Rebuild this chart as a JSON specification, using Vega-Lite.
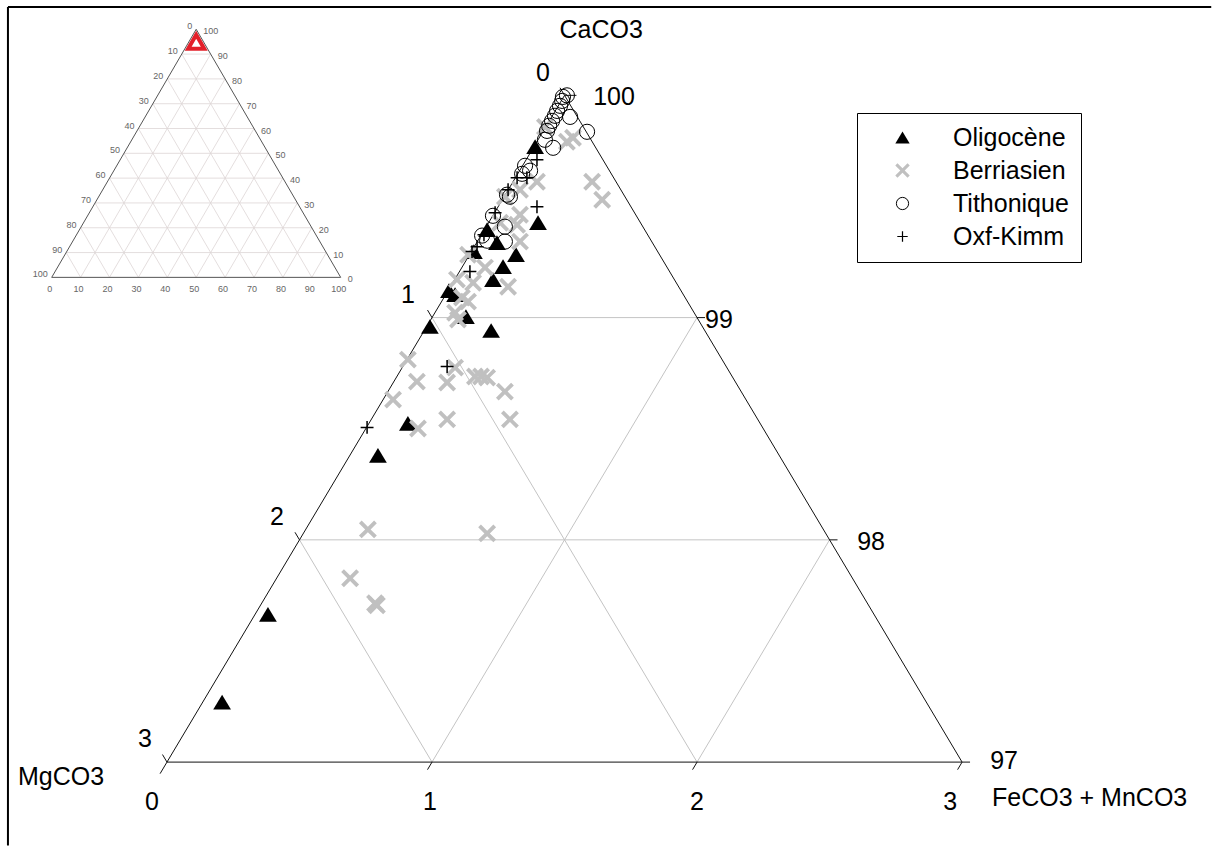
{
  "$schema": "https://vega.github.io/schema/vega-lite/v6.json",
  "width": 1216,
  "height": 847,
  "autosize": {"type": "fit", "contains": "padding"},
  "padding": 0,
  "background": "white",
  "config": {
    "view": {"stroke": null},
    "legend": {
      "orient": "none", "legendX": 857, "legendY": 113,
      "strokeColor": "black", "fillColor": "white", "padding": 12,
      "symbolOffset": 21, "labelOffset": 38, "labelFont": "Liberation Sans",
      "labelFontSize": 25, "labelColor": "black", "rowPadding": 7,
      "symbolSize": 150, "symbolStrokeWidth": 1
    }
  },
  "datasets": {
    "grid": [
      {"x": 1, "y": 99, "x2": 2, "y2": 99},
      {"x": 0.5, "y": 98, "x2": 2.5, "y2": 98},
      {"x": 1, "y": 97, "x2": 2, "y2": 99},
      {"x": 2, "y": 97, "x2": 2.5, "y2": 98},
      {"x": 1, "y": 97, "x2": 0.5, "y2": 98},
      {"x": 2, "y": 97, "x2": 1, "y2": 99}
    ],
    "edges": [
      {"x": 0, "y": 97, "x2": 1.5, "y2": 100},
      {"x": 1.5, "y": 100, "x2": 3, "y2": 97},
      {"x": 0, "y": 97, "x2": 3, "y2": 97}
    ],
    "ticks": [
      {"x": 1.5, "y": 100, "x2": 1.483, "y2": 100.034},
      {"x": 1, "y": 99, "x2": 0.983, "y2": 99.034},
      {"x": 0.5, "y": 98, "x2": 0.483, "y2": 98.034},
      {"x": 0, "y": 97, "x2": -0.017, "y2": 97.034},
      {"x": 1.5, "y": 100, "x2": 1.545, "y2": 100},
      {"x": 2, "y": 99, "x2": 2.03, "y2": 99},
      {"x": 2.5, "y": 98, "x2": 2.53, "y2": 98},
      {"x": 3, "y": 97, "x2": 3.03, "y2": 97},
      {"x": 0, "y": 97, "x2": -0.026, "y2": 96.948},
      {"x": 1, "y": 97, "x2": 0.983, "y2": 96.966},
      {"x": 2, "y": 97, "x2": 1.983, "y2": 96.966},
      {"x": 3, "y": 97, "x2": 2.983, "y2": 96.966}
    ],
    "frame": [
      {"x": -0.6, "y": 96.625, "x2": -0.6, "y2": 100.398},
      {"x": -0.6, "y": 100.398, "x2": 3.94, "y2": 100.398}
    ],
    "labelsCenter": [
      {"x": 1.638, "y": 100.294, "label": "CaCO3"},
      {"x": 1.419, "y": 100.101, "label": "0"},
      {"x": 0.909, "y": 99.103, "label": "1"},
      {"x": 0.415, "y": 98.101, "label": "2"},
      {"x": -0.083, "y": 97.103, "label": "3"},
      {"x": -0.057, "y": 96.82, "label": "0"},
      {"x": 0.992, "y": 96.82, "label": "1"},
      {"x": 2.0, "y": 96.82, "label": "2"},
      {"x": 2.955, "y": 96.82, "label": "3"},
      {"x": -0.4, "y": 96.933, "label": "MgCO3"}
    ],
    "labelsLeft": [
      {"x": 1.608, "y": 99.993, "label": "100"},
      {"x": 2.03, "y": 98.987, "label": "99"},
      {"x": 2.604, "y": 97.989, "label": "98"},
      {"x": 3.106, "y": 97.004, "label": "97"},
      {"x": 3.113, "y": 96.838, "label": "FeCO3 + MnCO3"}
    ],
    "pts": [
      {"series": "Oligocène", "x": 1.389, "y": 99.769},
      {"series": "Oligocène", "x": 1.4, "y": 99.427},
      {"series": "Oligocène", "x": 1.208, "y": 99.396},
      {"series": "Oligocène", "x": 1.245, "y": 99.337},
      {"series": "Oligocène", "x": 1.317, "y": 99.283},
      {"series": "Oligocène", "x": 1.158, "y": 99.297},
      {"series": "Oligocène", "x": 1.268, "y": 99.229},
      {"series": "Oligocène", "x": 1.23, "y": 99.171},
      {"series": "Oligocène", "x": 1.064, "y": 99.121},
      {"series": "Oligocène", "x": 1.087, "y": 99.103},
      {"series": "Oligocène", "x": 1.128, "y": 99.004},
      {"series": "Oligocène", "x": 0.992, "y": 98.96},
      {"series": "Oligocène", "x": 1.223, "y": 98.942},
      {"series": "Oligocène", "x": 0.909, "y": 98.524},
      {"series": "Oligocène", "x": 0.796, "y": 98.38},
      {"series": "Oligocène", "x": 0.381, "y": 97.665},
      {"series": "Oligocène", "x": 0.208, "y": 97.27},
      {"series": "Berriasien", "x": 1.532, "y": 99.809},
      {"series": "Berriasien", "x": 1.509, "y": 99.791},
      {"series": "Berriasien", "x": 1.426, "y": 99.858},
      {"series": "Berriasien", "x": 1.604, "y": 99.611},
      {"series": "Berriasien", "x": 1.642, "y": 99.53},
      {"series": "Berriasien", "x": 1.396, "y": 99.611},
      {"series": "Berriasien", "x": 1.332, "y": 99.575},
      {"series": "Berriasien", "x": 1.275, "y": 99.544},
      {"series": "Berriasien", "x": 1.332, "y": 99.463},
      {"series": "Berriasien", "x": 1.321, "y": 99.418},
      {"series": "Berriasien", "x": 1.332, "y": 99.342},
      {"series": "Berriasien", "x": 1.257, "y": 99.427},
      {"series": "Berriasien", "x": 1.2, "y": 99.225},
      {"series": "Berriasien", "x": 1.136, "y": 99.283},
      {"series": "Berriasien", "x": 1.094, "y": 99.171},
      {"series": "Berriasien", "x": 1.155, "y": 99.157},
      {"series": "Berriasien", "x": 1.287, "y": 99.139},
      {"series": "Berriasien", "x": 1.113, "y": 99.09},
      {"series": "Berriasien", "x": 1.136, "y": 99.072},
      {"series": "Berriasien", "x": 1.087, "y": 99.022},
      {"series": "Berriasien", "x": 1.098, "y": 98.991},
      {"series": "Berriasien", "x": 0.909, "y": 98.811},
      {"series": "Berriasien", "x": 0.943, "y": 98.712},
      {"series": "Berriasien", "x": 1.057, "y": 98.708},
      {"series": "Berriasien", "x": 1.087, "y": 98.775},
      {"series": "Berriasien", "x": 1.162, "y": 98.735},
      {"series": "Berriasien", "x": 1.185, "y": 98.735},
      {"series": "Berriasien", "x": 1.208, "y": 98.73},
      {"series": "Berriasien", "x": 1.275, "y": 98.667},
      {"series": "Berriasien", "x": 0.853, "y": 98.631},
      {"series": "Berriasien", "x": 1.057, "y": 98.542},
      {"series": "Berriasien", "x": 0.947, "y": 98.501},
      {"series": "Berriasien", "x": 1.294, "y": 98.542},
      {"series": "Berriasien", "x": 0.758, "y": 98.047},
      {"series": "Berriasien", "x": 1.208, "y": 98.029},
      {"series": "Berriasien", "x": 0.691, "y": 97.827},
      {"series": "Berriasien", "x": 0.792, "y": 97.706},
      {"series": "Berriasien", "x": 0.785, "y": 97.715},
      {"series": "Tithonique", "x": 1.494, "y": 99.993},
      {"series": "Tithonique", "x": 1.509, "y": 100.0},
      {"series": "Tithonique", "x": 1.491, "y": 99.975},
      {"series": "Tithonique", "x": 1.483, "y": 99.953},
      {"series": "Tithonique", "x": 1.472, "y": 99.93},
      {"series": "Tithonique", "x": 1.464, "y": 99.908},
      {"series": "Tithonique", "x": 1.453, "y": 99.885},
      {"series": "Tithonique", "x": 1.442, "y": 99.863},
      {"series": "Tithonique", "x": 1.434, "y": 99.84},
      {"series": "Tithonique", "x": 1.521, "y": 99.903},
      {"series": "Tithonique", "x": 1.585, "y": 99.836},
      {"series": "Tithonique", "x": 1.426, "y": 99.8},
      {"series": "Tithonique", "x": 1.457, "y": 99.764},
      {"series": "Tithonique", "x": 1.351, "y": 99.683},
      {"series": "Tithonique", "x": 1.37, "y": 99.661},
      {"series": "Tithonique", "x": 1.34, "y": 99.647},
      {"series": "Tithonique", "x": 1.283, "y": 99.553},
      {"series": "Tithonique", "x": 1.294, "y": 99.544},
      {"series": "Tithonique", "x": 1.23, "y": 99.458},
      {"series": "Tithonique", "x": 1.275, "y": 99.409},
      {"series": "Tithonique", "x": 1.189, "y": 99.369},
      {"series": "Tithonique", "x": 1.208, "y": 99.346},
      {"series": "Tithonique", "x": 1.275, "y": 99.342},
      {"series": "Oxf-Kimm", "x": 1.396, "y": 99.71},
      {"series": "Oxf-Kimm", "x": 1.358, "y": 99.629},
      {"series": "Oxf-Kimm", "x": 1.321, "y": 99.629},
      {"series": "Oxf-Kimm", "x": 1.287, "y": 99.575},
      {"series": "Oxf-Kimm", "x": 1.396, "y": 99.499},
      {"series": "Oxf-Kimm", "x": 1.238, "y": 99.472},
      {"series": "Oxf-Kimm", "x": 1.196, "y": 99.373},
      {"series": "Oxf-Kimm", "x": 1.17, "y": 99.319},
      {"series": "Oxf-Kimm", "x": 1.151, "y": 99.297},
      {"series": "Oxf-Kimm", "x": 1.143, "y": 99.207},
      {"series": "Oxf-Kimm", "x": 1.057, "y": 98.78},
      {"series": "Oxf-Kimm", "x": 0.755, "y": 98.506}
    ],
    "insetEdges": [
      {"x": 0, "y": 0, "x2": 50, "y2": 100},
      {"x": 50, "y": 100, "x2": 100, "y2": 0},
      {"x": 0, "y": 0, "x2": 100, "y2": 0}
    ],
    "insetGrid": [
      {"x": 10, "y": 0, "x2": 55, "y2": 90},
      {"x": 20, "y": 0, "x2": 60, "y2": 80},
      {"x": 30, "y": 0, "x2": 65, "y2": 70},
      {"x": 40, "y": 0, "x2": 70, "y2": 60},
      {"x": 50, "y": 0, "x2": 75, "y2": 50},
      {"x": 60, "y": 0, "x2": 80, "y2": 40},
      {"x": 70, "y": 0, "x2": 85, "y2": 30},
      {"x": 80, "y": 0, "x2": 90, "y2": 20},
      {"x": 90, "y": 0, "x2": 95, "y2": 10},
      {"x": 10, "y": 0, "x2": 5, "y2": 10},
      {"x": 20, "y": 0, "x2": 10, "y2": 20},
      {"x": 30, "y": 0, "x2": 15, "y2": 30},
      {"x": 40, "y": 0, "x2": 20, "y2": 40},
      {"x": 50, "y": 0, "x2": 25, "y2": 50},
      {"x": 60, "y": 0, "x2": 30, "y2": 60},
      {"x": 70, "y": 0, "x2": 35, "y2": 70},
      {"x": 80, "y": 0, "x2": 40, "y2": 80},
      {"x": 90, "y": 0, "x2": 45, "y2": 90},
      {"x": 5, "y": 10, "x2": 95, "y2": 10},
      {"x": 10, "y": 20, "x2": 90, "y2": 20},
      {"x": 15, "y": 30, "x2": 85, "y2": 30},
      {"x": 20, "y": 40, "x2": 80, "y2": 40},
      {"x": 25, "y": 50, "x2": 75, "y2": 50},
      {"x": 30, "y": 60, "x2": 70, "y2": 60},
      {"x": 35, "y": 70, "x2": 65, "y2": 70},
      {"x": 40, "y": 80, "x2": 60, "y2": 80},
      {"x": 45, "y": 90, "x2": 55, "y2": 90}
    ],
    "insetLabels": [
      {"side": "b", "x": 0, "y": 0, "label": "0"},
      {"side": "b", "x": 10, "y": 0, "label": "10"},
      {"side": "b", "x": 20, "y": 0, "label": "20"},
      {"side": "b", "x": 30, "y": 0, "label": "30"},
      {"side": "b", "x": 40, "y": 0, "label": "40"},
      {"side": "b", "x": 50, "y": 0, "label": "50"},
      {"side": "b", "x": 60, "y": 0, "label": "60"},
      {"side": "b", "x": 70, "y": 0, "label": "70"},
      {"side": "b", "x": 80, "y": 0, "label": "80"},
      {"side": "b", "x": 90, "y": 0, "label": "90"},
      {"side": "b", "x": 100, "y": 0, "label": "100"},
      {"side": "l", "x": 50, "y": 100, "label": "0"},
      {"side": "l", "x": 45, "y": 90, "label": "10"},
      {"side": "l", "x": 40, "y": 80, "label": "20"},
      {"side": "l", "x": 35, "y": 70, "label": "30"},
      {"side": "l", "x": 30, "y": 60, "label": "40"},
      {"side": "l", "x": 25, "y": 50, "label": "50"},
      {"side": "l", "x": 20, "y": 40, "label": "60"},
      {"side": "l", "x": 15, "y": 30, "label": "70"},
      {"side": "l", "x": 10, "y": 20, "label": "80"},
      {"side": "l", "x": 5, "y": 10, "label": "90"},
      {"side": "l", "x": 0, "y": 0, "label": "100"},
      {"side": "r", "x": 100, "y": 0, "label": "0"},
      {"side": "r", "x": 95, "y": 10, "label": "10"},
      {"side": "r", "x": 90, "y": 20, "label": "20"},
      {"side": "r", "x": 85, "y": 30, "label": "30"},
      {"side": "r", "x": 80, "y": 40, "label": "40"},
      {"side": "r", "x": 75, "y": 50, "label": "50"},
      {"side": "r", "x": 70, "y": 60, "label": "60"},
      {"side": "r", "x": 65, "y": 70, "label": "70"},
      {"side": "r", "x": 60, "y": 80, "label": "80"},
      {"side": "r", "x": 55, "y": 90, "label": "90"},
      {"side": "r", "x": 50, "y": 100, "label": "100"}
    ],
    "insetMarker": [
      {"x": 50, "y": 95}
    ]
  },
  "layer": [
    {
      "encoding": {
        "x": {"field": "x", "type": "quantitative", "axis": null, "scale": {"domain": [-0.63, 3.958], "nice": false, "zero": false}},
        "y": {"field": "y", "type": "quantitative", "axis": null, "scale": {"domain": [96.6225, 100.429], "nice": false, "zero": false}}
      },
      "layer": [
        {
          "data": {"name": "grid"},
          "mark": {"type": "rule", "color": "#c4c4c4", "strokeWidth": 1},
          "encoding": {"x2": {"field": "x2"}, "y2": {"field": "y2"}}
        },
        {
          "data": {"name": "edges"},
          "mark": {"type": "rule", "color": "#111111", "strokeWidth": 1},
          "encoding": {"x2": {"field": "x2"}, "y2": {"field": "y2"}}
        },
        {
          "data": {"name": "ticks"},
          "mark": {"type": "rule", "color": "#111111", "strokeWidth": 1},
          "encoding": {"x2": {"field": "x2"}, "y2": {"field": "y2"}}
        },
        {
          "data": {"name": "frame"},
          "mark": {"type": "rule", "color": "#000000", "strokeWidth": 2},
          "encoding": {"x2": {"field": "x2"}, "y2": {"field": "y2"}}
        },
        {
          "data": {"name": "pts"},
          "mark": {"type": "point", "size": 230, "strokeWidth": 1, "opacity": 1},
          "encoding": {
            "shape": {
              "field": "series", "type": "nominal",
              "scale": {
                "domain": ["Oligocène", "Berriasien", "Tithonique", "Oxf-Kimm"],
                "range": [
                  "M0,-0.97L1.17,0.97L-1.17,0.97Z",
                  "M0,0.36L-0.82,1.18L-1.18,0.82L-0.36,0L-1.18,-0.82L-0.82,-1.18L0,-0.36L0.82,-1.18L1.18,-0.82L0.36,0L1.18,0.82L0.82,1.18Z",
                  "circle",
                  "M-0.85,-0.1L-0.1,-0.1L-0.1,-0.85L0.1,-0.85L0.1,-0.1L0.85,-0.1L0.85,0.1L0.1,0.1L0.1,0.85L-0.1,0.85L-0.1,0.1L-0.85,0.1Z"
                ]
              },
              "legend": {"title": null, "orient": "none", "legendX": 857, "legendY": 113}
            },
            "fill": {
              "field": "series", "type": "nominal",
              "scale": {"domain": ["Oligocène", "Berriasien", "Tithonique", "Oxf-Kimm"], "range": ["#000000", "#c0c0c0", "transparent", "#000000"]},
              "legend": {"title": null, "orient": "none", "legendX": 857, "legendY": 113}
            },
            "stroke": {
              "field": "series", "type": "nominal",
              "scale": {"domain": ["Oligocène", "Berriasien", "Tithonique", "Oxf-Kimm"], "range": ["transparent", "transparent", "#000000", "transparent"]},
              "legend": {"title": null, "orient": "none", "legendX": 857, "legendY": 113}
            }
          }
        },
        {
          "data": {"name": "labelsCenter"},
          "mark": {"type": "text", "font": "Liberation Sans", "fontSize": 25, "align": "center", "baseline": "middle", "color": "#000000"},
          "encoding": {"text": {"field": "label"}}
        },
        {
          "data": {"name": "labelsLeft"},
          "mark": {"type": "text", "font": "Liberation Sans", "fontSize": 25, "align": "left", "baseline": "middle", "color": "#000000"},
          "encoding": {"text": {"field": "label"}}
        }
      ]
    },
    {
      "encoding": {
        "x": {"field": "x", "type": "quantitative", "axis": null, "scale": {"domain": [-17.89, 402.87], "nice": false, "zero": false}},
        "y": {"field": "y", "type": "quantitative", "axis": null, "scale": {"domain": [-229.2, 111.8], "nice": false, "zero": false}}
      },
      "layer": [
        {
          "data": {"name": "insetGrid"},
          "mark": {"type": "rule", "color": "#ddd6d6", "strokeWidth": 0.8},
          "encoding": {"x2": {"field": "x2"}, "y2": {"field": "y2"}}
        },
        {
          "data": {"name": "insetEdges"},
          "mark": {"type": "rule", "color": "#555555", "strokeWidth": 1},
          "encoding": {"x2": {"field": "x2"}, "y2": {"field": "y2"}}
        },
        {
          "data": {"name": "insetLabels"},
          "transform": [{"filter": "datum.side === 'b'"}],
          "mark": {"type": "text", "font": "Liberation Sans", "fontSize": 9, "align": "center", "baseline": "middle", "dx": -2, "dy": 12, "color": "#666666"},
          "encoding": {"text": {"field": "label"}}
        },
        {
          "data": {"name": "insetLabels"},
          "transform": [{"filter": "datum.side === 'l'"}],
          "mark": {"type": "text", "font": "Liberation Sans", "fontSize": 9, "align": "right", "baseline": "middle", "dx": -4, "dy": -3, "color": "#666666"},
          "encoding": {"text": {"field": "label"}}
        },
        {
          "data": {"name": "insetLabels"},
          "transform": [{"filter": "datum.side === 'r'"}],
          "mark": {"type": "text", "font": "Liberation Sans", "fontSize": 9, "align": "left", "baseline": "middle", "dx": 7, "dy": 2, "color": "#666666"},
          "encoding": {"text": {"field": "label"}}
        },
        {
          "data": {"name": "insetMarker"},
          "mark": {"type": "point", "shape": "triangle-up", "size": 260, "filled": false, "stroke": "#e3202a", "strokeWidth": 4, "fill": "white", "opacity": 1},
          "encoding": {}
        }
      ]
    }
  ],
  "resolve": {"scale": {"x": "independent", "y": "independent"}}
}
